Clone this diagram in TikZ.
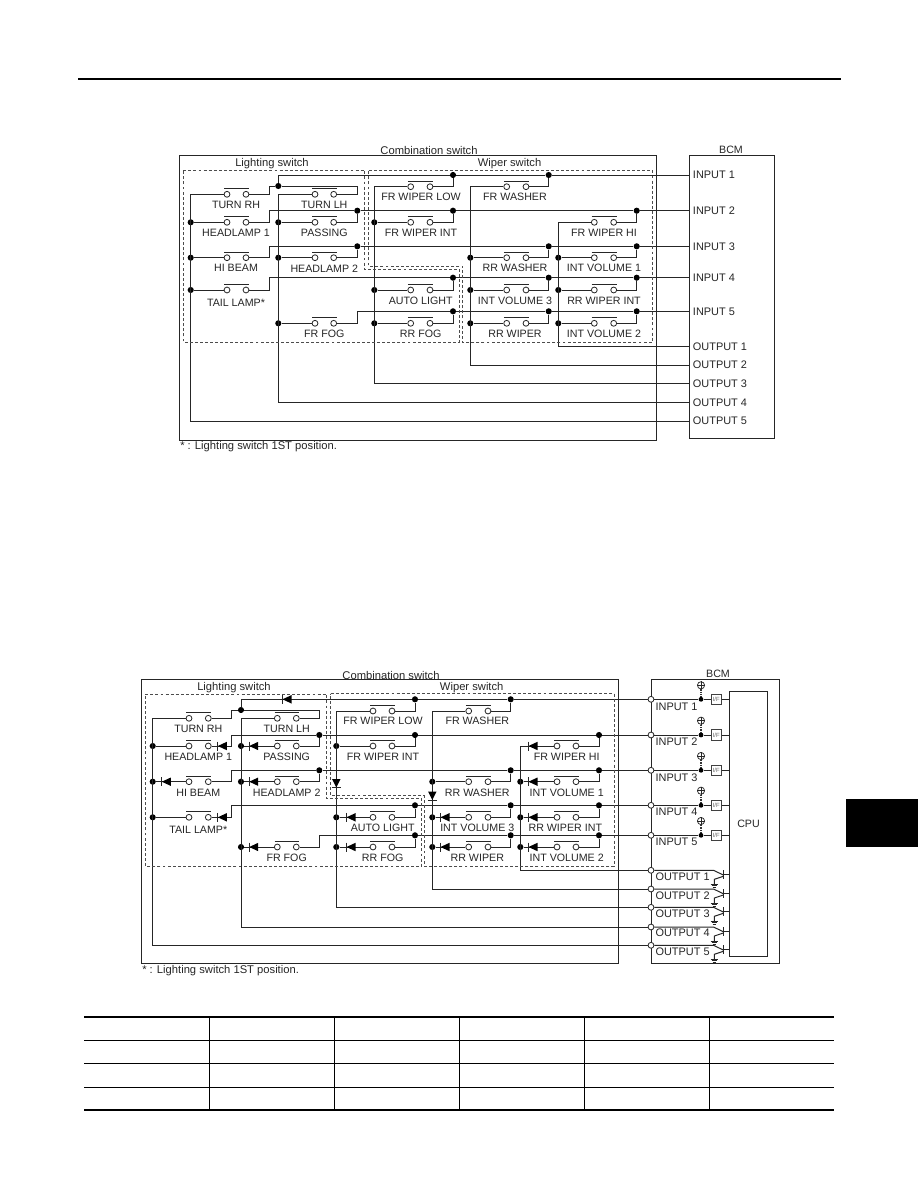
\documentclass[tikz,border=0pt]{standalone}
\usepackage{fontspec}
\setmainfont{Liberation Sans}
\tikzset{
  x=0.75pt,y=-0.75pt,
  wire/.style={line width=0.75pt,black!85},
  frame/.style={line width=0.75pt,black!85},
  dashbox/.style={line width=0.7pt,black!70,dash pattern=on 2.2pt off 1.6pt},
  jun/.style={circle,fill=black,inner sep=0pt,minimum size=4.6pt},
  contact/.style={circle,draw=black!85,fill=white,line width=0.6pt,inner sep=0pt,minimum size=4.4pt},
  pin/.style={circle,draw=black!85,fill=white,line width=0.6pt,inner sep=0pt,minimum size=4.4pt},
  lab/.style={font=\fontsize{8}{9}\selectfont,text=black!85,inner sep=0pt},
  labw/.style={font=\fontsize{8.4}{9}\selectfont,text=black!85,inner sep=0pt},
  pinlab/.style={font=\fontsize{8.2}{9}\selectfont,text=black!85,inner sep=0pt,anchor=west},
  ifbox/.style={draw=black!75,fill=white,line width=0.6pt,minimum size=7.8pt,inner sep=0pt,font=\fontsize{4.5}{5}\selectfont,text=black!60},
  plus/.style={circle,draw=black!85,fill=white,line width=0.55pt,inner sep=0pt,minimum size=5.4pt},
  resist/.style={line width=2pt,black!80,dash pattern=on 1pt off 0.8pt},
}
% id, xa, xb, y, label x, label, label y
\newcommand{\SW}[7]{%
  \node[contact] (#1-a) at (#2,#4) {};
  \node[contact] (#1-b) at (#3,#4) {};
  \draw[wire] (#2-2.8,#4-5.6) -- (#3+2.8,#4-5.6);
  \node[lab] (#1-l) at (#5,#7) {#6};
}
% from, riser, to
\newcommand{\RIS}[3]{\draw[wire] (#1) -| (#2 |- #3) -- (#3);}
\newcommand{\DL}[2]{%
  \fill[black] (#1-4.5,#2) -- (#1+4.5,#2-4.2) -- (#1+4.5,#2+4.2) -- cycle;
  \draw[wire] (#1-4.5,#2-4.5) -- (#1-4.5,#2+4.5);
}
\newcommand{\DD}[2]{%
  \fill[black] (#1,#2+4) -- (#1-4.2,#2-4.5) -- (#1+4.2,#2-4.5) -- cycle;
  \draw[wire] (#1-4.5,#2+4) -- (#1+4.5,#2+4);
}
% index, y
\newcommand{\INP}[3]{%
  \node[ifbox] (bIF#1) at (716.3,#2) {I/F};
  \node[jun,minimum size=3.6pt] (bK#1) at (701,#2) {};
  \node[plus] (bV#1) at (701,#3) {};
  \draw[line width=0.5pt,black!85] (bV#1.west) -- (bV#1.east) (bV#1.north) -- (bV#1.south);
  \draw[resist] (bV#1.south) -- (bK#1);
  \draw[wire] (bI#1) -- (bK#1) -- (bIF#1);
  \draw[wire] (bIF#1) -- (bIF#1 -| cpu.west);
}
\newcommand{\TRA}[2]{%
  \coordinate (bTc#1) at (713.5,#2);
  \coordinate (bTd#1) at (723.3,#2+4.7);
  \coordinate (bTe#1) at (714.3,#2+9);
  \coordinate (bTg#1) at (714.3,#2+14);
  \draw[wire] (bO#1) -- (bTc#1) -- (bTd#1);
  \draw[wire] (723.3,#2) -- (723.3,#2+8.5);
  \draw[wire] (723.3,#2+4) -- (723.3,#2+4 -| cpu.west);
  \draw[wire] (723.3,#2+6) -- (bTe#1) -- (bTg#1);
  \draw[line width=0.6pt,black!85] (710.5,#2+14) -- (718,#2+14) (711.5,#2+15.5) -- (717,#2+15.5) (712.5,#2+17) -- (716,#2+17);
}
\begin{document}
\begin{tikzpicture}
\useasboundingbox (0,0) rectangle (918,1188);
\fill[white] (0,0) rectangle (918,1188);
% page furniture
\draw[line width=1.5pt,black] (78,79) -- (841,79);
\fill[black] (846,799) rectangle (918,847);
% table
\draw[line width=1.5pt] (84,1016.7) -- (834,1016.7) (84,1109.7) -- (834,1109.7);
\foreach \y in {1040.3,1063.3,1087.3} \draw[line width=0.75pt] (84,\y) -- (834,\y);
\foreach \x in {209,334,459,584,709} \draw[line width=0.75pt] (\x,1016.7) -- (\x,1109.7);

% ================= TOP DIAGRAM =================
\node[draw=black!85,line width=0.75pt,minimum width=476.5*0.75pt,minimum height=284.5*0.75pt,inner sep=0pt] (tCS) at (417.75,297.75) {};
\node[draw=black!85,line width=0.75pt,minimum width=85*0.75pt,minimum height=282.5*0.75pt,inner sep=0pt] (tBCM) at (731.5,296.75) {};
\node[labw] (tT1) at (429,150.5) {Combination switch};
\node[lab] (tT2) at (731,149.5) {BCM};
\node[labw] (tT3) at (272,164) {Lighting switch};
\node[labw] (tT4) at (509.5,164) {Wiper switch};
\node[labw,anchor=west] (tT5) at (180,446.5) {* : Lighting switch 1ST position.};
\foreach \n/\y in {I1/175,I2/210.7,I3/246.3,I4/277.7,I5/311.3,O1/346.7,O2/365,O3/383.3,O4/402.7,O5/421}
  \coordinate (t\n) at (689,\y);
\foreach \n/\x in {r1/269,r2/357.3} \coordinate (t\n) at (\x,0);
\foreach \n/\t/\y in {I1/INPUT 1/175,I2/INPUT 2/210.7,I3/INPUT 3/246.3,I4/INPUT 4/277.7,I5/INPUT 5/311.3,O1/OUTPUT 1/346.7,O2/OUTPUT 2/365,O3/OUTPUT 3/383.3,O4/OUTPUT 4/402.7,O5/OUTPUT 5/421}
  \node[pinlab] (tL\n) at (692.7,\y) {\t};
% junctions
\foreach \n/\x/\y in {A2/190.7/222.3,A3/190.7/257.7,A4/190.7/290,B0/278.3/186,B2/278.3/222.3,B3/278.3/257.7,B5/278.3/323.3,
  P2/357.3/210.7,P3/357.3/246.3,C2/374.3/222.3,C4/374.3/290,C5/374.3/323.3,
  Q1/453/175,Q2/453/210.7,Q4/453/277.7,Q5/453/311.3,D3/470.3/257.7,D4/470.3/290,D5/470.3/323.3,
  R1/548.7/175,R3/548.7/246.3,R4/548.7/277.7,R5/548.7/311.3,E3/558.3/257.7,E4/558.3/290,E5/558.3/323.3,
  S2/636.7/210.7,S3/636.7/246.3,S4/636.7/277.7,S5/636.7/311.3}
  \node[jun] (t\n) at (\x,\y) {};
\foreach \n/\x/\y in {A0/190.7/194.3,B1/278.3/194.3,C0/374.3/186.7,D0/470.3/186.7,E0/558.3/222.3}
  \coordinate (t\n) at (\x,\y);
% switches
\SW{tTRH}{227}{246}{194.3}{236}{TURN RH}{205}
\SW{tHL1}{227}{246}{222.3}{236}{HEADLAMP 1}{233.3}
\SW{tHIB}{227}{246}{257.7}{236}{HI BEAM}{268.3}
\SW{tTAL}{227}{246}{290}{236}{TAIL LAMP*}{303}
\SW{tTLH}{315}{333.7}{194.3}{324.3}{TURN LH}{205}
\SW{tPAS}{315}{333.7}{222.3}{324.3}{PASSING}{233.3}
\SW{tHL2}{315}{333.7}{257.7}{324.3}{HEADLAMP 2}{268.3}
\SW{tFOG}{315}{333.7}{323.3}{324.3}{FR FOG}{333.7}
\SW{tWLO}{410.7}{430}{186.7}{421}{FR WIPER LOW}{197.3}
\SW{tWIN}{410.7}{430}{222.3}{421}{FR WIPER INT}{233.3}
\SW{tAUT}{410.7}{430}{290}{420.7}{AUTO LIGHT}{300.7}
\SW{tRFG}{410.7}{430}{323.3}{420.7}{RR FOG}{333.7}
\SW{tFWS}{506.7}{526}{186.7}{515}{FR WASHER}{197.3}
\SW{tRWS}{506.7}{526}{257.7}{515}{RR WASHER}{268.3}
\SW{tIV3}{506.7}{526}{290}{515}{INT VOLUME 3}{300.7}
\SW{tRWP}{506.7}{526}{323.3}{515}{RR WIPER}{333.7}
\SW{tWHI}{594.3}{613.7}{222.3}{604}{FR WIPER HI}{233.3}
\SW{tIV1}{594.3}{613.7}{257.7}{604}{INT VOLUME 1}{268.3}
\SW{tRWI}{594.3}{613.7}{290}{604}{RR WIPER INT}{300.7}
\SW{tIV2}{594.3}{613.7}{323.3}{604}{INT VOLUME 2}{333.7}
% wires
\draw[wire] (tO5) -| (tA0) -- (tTRH-a);
\draw[wire] (tO4) -| (tB1) -- (tTLH-a);
\draw[wire] (tO3) -| (tC0) -- (tWLO-a);
\draw[wire] (tO2) -| (tD0) -- (tFWS-a);
\draw[wire] (tO1) -| (tE0) -- (tWHI-a);
\foreach \s/\j in {HL1/A2,HIB/A3,TAL/A4,PAS/B2,HL2/B3,FOG/B5,WIN/C2,AUT/C4,RFG/C5,RWS/D3,IV3/D4,RWP/D5,IV1/E3,RWI/E4,IV2/E5}
  \draw[wire] (t\j) -- (t\s-a);
\RIS{tTRH-b}{tr1}{tB0}
\draw[wire] (tB0) -| (tr2 |- tTLH-b) -- (tTLH-b);
\draw[wire] (tB0) |- (tQ1);
\draw[wire] (tQ1) -- (tR1) -- (tI1);
\draw[wire] (tHL1-b) -| (tr1 |- tI2) -- (tP2) -- (tQ2) -- (tS2) -- (tI2);
\draw[wire] (tHIB-b) -| (tr1 |- tI3) -- (tP3) -- (tR3) -- (tS3) -- (tI3);
\draw[wire] (tTAL-b) -| (tr1 |- tI4) -- (tQ4) -- (tR4) -- (tS4) -- (tI4);
\draw[wire] (tFOG-b) -| (tr2 |- tI5) -- (tQ5) -- (tR5) -- (tS5) -- (tI5);
\foreach \s/\j in {PAS/P2,HL2/P3,WLO/Q1,WIN/Q2,AUT/Q4,RFG/Q5,FWS/R1,RWS/R3,IV3/R4,RWP/R5,WHI/S2,IV1/S3,RWI/S4,IV2/S5}
  \draw[wire] (t\s-b) -| (t\j);
% dashed groups
\draw[dashbox] (183.3,170) -- (364.3,170) -- (364.3,269) -- (459,269) -- (459,342.3) -- (183.3,342.3) -- cycle;
\draw[dashbox] (368.7,170) -- (652,170) -- (652,342.3) -- (462.7,342.3) -- (462.7,266) -- (368.7,266) -- cycle;

% ================= BOTTOM DIAGRAM =================
\node[draw=black!85,line width=0.75pt,minimum width=477*0.75pt,minimum height=284*0.75pt,inner sep=0pt] (bCS) at (380.2,821.3) {};
\node[draw=black!85,line width=0.75pt,minimum width=128.3*0.75pt,minimum height=284*0.75pt,inner sep=0pt] (bBCM) at (715.15,821.3) {};
\node[draw=black!85,line width=0.75pt,minimum width=38.4*0.75pt,minimum height=264.3*0.75pt,inner sep=0pt,lab] (cpu) at (748.5,823.85) {CPU};
\node[labw] (bT1) at (391,675) {Combination switch};
\node[lab] (bT2) at (718,674) {BCM};
\node[labw] (bT3) at (234,688) {Lighting switch};
\node[labw] (bT4) at (471.7,688) {Wiper switch};
\node[labw,anchor=west] (bT5) at (142,970.5) {* : Lighting switch 1ST position.};
\foreach \n/\y in {I1/699.3,I2/735,I3/770.3,I4/805.3,I5/835.3,O1/870.3,O2/889,O3/907.3,O4/927,O5/945.3}
  \node[pin] (b\n) at (651,\y) {};
\foreach \n/\t/\y in {I1/INPUT 1/706.3,I2/INPUT 2/741.7,I3/INPUT 3/778,I4/INPUT 4/812,I5/INPUT 5/841.7,O1/OUTPUT 1/876.7,O2/OUTPUT 2/895.3,O3/OUTPUT 3/913.7,O4/OUTPUT 4/933,O5/OUTPUT 5/951.7}
  \node[pinlab] (bL\n) at (655.3,\y) {\t};
\foreach \n/\x in {r1/231.3,r2/319.3} \coordinate (b\n) at (\x,0);
\foreach \n/\x/\y in {A2/152.7/746,A3/152.7/781.7,A4/152.7/817.3,B0/241/710,B2/241/746,B3/241/781.7,B5/241/847,
  P2/319.3/735,P3/319.3/770.3,C2/336.3/746,C4/336.3/817.3,C5/336.3/847,
  Q1/415/699.3,Q2/415/735,Q4/415/805.3,Q5/415/835.3,D3/432.3/781.7,D4/432.3/817.3,D5/432.3/847,
  R1/510.7/699.3,R3/510.7/770.3,R4/510.7/805.3,R5/510.7/835.3,E3/520.3/781.7,E4/520.3/817.3,E5/520.3/847,
  S2/599/735,S3/599/770.3,S4/599/805.3,S5/599/835.3}
  \node[jun] (b\n) at (\x,\y) {};
\foreach \n/\x/\y in {A0/152.7/718.3,B1/241/718.3,C0/336.3/711,D0/432.3/711,E0/520.3/746}
  \coordinate (b\n) at (\x,\y);
\SW{bTRH}{189}{208.3}{718.3}{198.3}{TURN RH}{729.3}
\SW{bHL1}{189}{208.3}{746}{198.3}{HEADLAMP 1}{757.3}
\SW{bHIB}{189}{208.3}{781.7}{198.3}{HI BEAM}{792.7}
\SW{bTAL}{189}{208.3}{817.3}{198.3}{TAIL LAMP*}{830.3}
\SW{bTLH}{277.3}{296.3}{718.3}{286.7}{TURN LH}{729.3}
\SW{bPAS}{277.3}{296.3}{746}{286.7}{PASSING}{757.3}
\SW{bHL2}{277.3}{296.3}{781.7}{286.7}{HEADLAMP 2}{792.7}
\SW{bFOG}{277.3}{296.3}{847}{286.7}{FR FOG}{857.7}
\SW{bWLO}{373}{392}{711}{383}{FR WIPER LOW}{721.3}
\SW{bWIN}{373}{392}{746}{383}{FR WIPER INT}{757.3}
\SW{bAUT}{373}{392}{817.3}{382.7}{AUTO LIGHT}{828.3}
\SW{bRFG}{373}{392}{847}{382.7}{RR FOG}{857.7}
\SW{bFWS}{468.7}{488}{711}{477.3}{FR WASHER}{721.3}
\SW{bRWS}{468.7}{488}{781.7}{477.3}{RR WASHER}{792.5}
\SW{bIV3}{468.7}{488}{817.3}{477.3}{INT VOLUME 3}{828.3}
\SW{bRWP}{468.7}{488}{847}{477.3}{RR WIPER}{857.7}
\SW{bWHI}{557}{576}{746}{566.7}{FR WIPER HI}{757.3}
\SW{bIV1}{557}{576}{781.7}{566.7}{INT VOLUME 1}{792.7}
\SW{bRWI}{557}{576}{817.3}{565.3}{RR WIPER INT}{828.3}
\SW{bIV2}{557}{576}{847}{566.7}{INT VOLUME 2}{857.7}
\draw[wire] (bO5) -| (bA0) -- (bTRH-a);
\draw[wire] (bO4) -| (bB1) -- (bTLH-a);
\draw[wire] (bO3) -| (bC0) -- (bWLO-a);
\draw[wire] (bO2) -| (bD0) -- (bFWS-a);
\draw[wire] (bO1) -| (bE0) -- (bWHI-a);
\foreach \s/\j in {HL1/A2,HIB/A3,TAL/A4,PAS/B2,HL2/B3,FOG/B5,WIN/C2,AUT/C4,RFG/C5,RWS/D3,IV3/D4,RWP/D5,IV1/E3,RWI/E4,IV2/E5}
  \draw[wire] (b\j) -- (b\s-a);
\RIS{bTRH-b}{br1}{bB0}
\draw[wire] (bB0) -| (br2 |- bTLH-b) -- (bTLH-b);
\draw[wire] (bB0) |- (bQ1);
\draw[wire] (bQ1) -- (bR1) -- (bI1);
\draw[wire] (bHL1-b) -| (br1 |- bI2) -- (bP2) -- (bQ2) -- (bS2) -- (bI2);
\draw[wire] (bHIB-b) -| (br1 |- bI3) -- (bP3) -- (bR3) -- (bS3) -- (bI3);
\draw[wire] (bTAL-b) -| (br1 |- bI4) -- (bQ4) -- (bR4) -- (bS4) -- (bI4);
\draw[wire] (bFOG-b) -| (br2 |- bI5) -- (bQ5) -- (bR5) -- (bS5) -- (bI5);
\foreach \s/\j in {PAS/P2,HL2/P3,WLO/Q1,WIN/Q2,AUT/Q4,RFG/Q5,FWS/R1,RWS/R3,IV3/R4,RWP/R5,WHI/S2,IV1/S3,RWI/S4,IV2/S5}
  \draw[wire] (b\s-b) -| (b\j);
% diodes
\DL{287}{699.3}
\DL{222.3}{746}\DL{253.7}{746}
\DL{166.3}{781.7}\DL{253.7}{781.7}
\DL{222.3}{817.3}
\DL{253.7}{847}
\DL{351}{817.3}\DL{351}{847}
\DL{445}{817.3}\DL{445}{847}
\DL{533}{746}\DL{533}{781.7}\DL{533}{817.3}\DL{533}{847}
\DD{336.3}{783.5}
\DD{432.3}{796}
% dashed groups
\draw[dashbox] (145.3,694) -- (326.3,694) -- (326.3,798.3) -- (421.5,798.3) -- (421.5,866) -- (145.3,866) -- cycle;
\draw[dashbox] (330.7,693.5) -- (614.3,693.5) -- (614.3,866) -- (424.3,866) -- (424.3,795.7) -- (330.7,795.7) -- cycle;
% BCM internals
\INP{1}{699.3}{685.3}
\INP{2}{735}{720.7}
\INP{3}{770.3}{756}
\INP{4}{805.3}{790.7}
\INP{5}{835.3}{821}
\TRA{1}{870.3}
\TRA{2}{889}
\TRA{3}{907.3}
\TRA{4}{927}
\TRA{5}{945.3}
\end{tikzpicture}
\end{document}
